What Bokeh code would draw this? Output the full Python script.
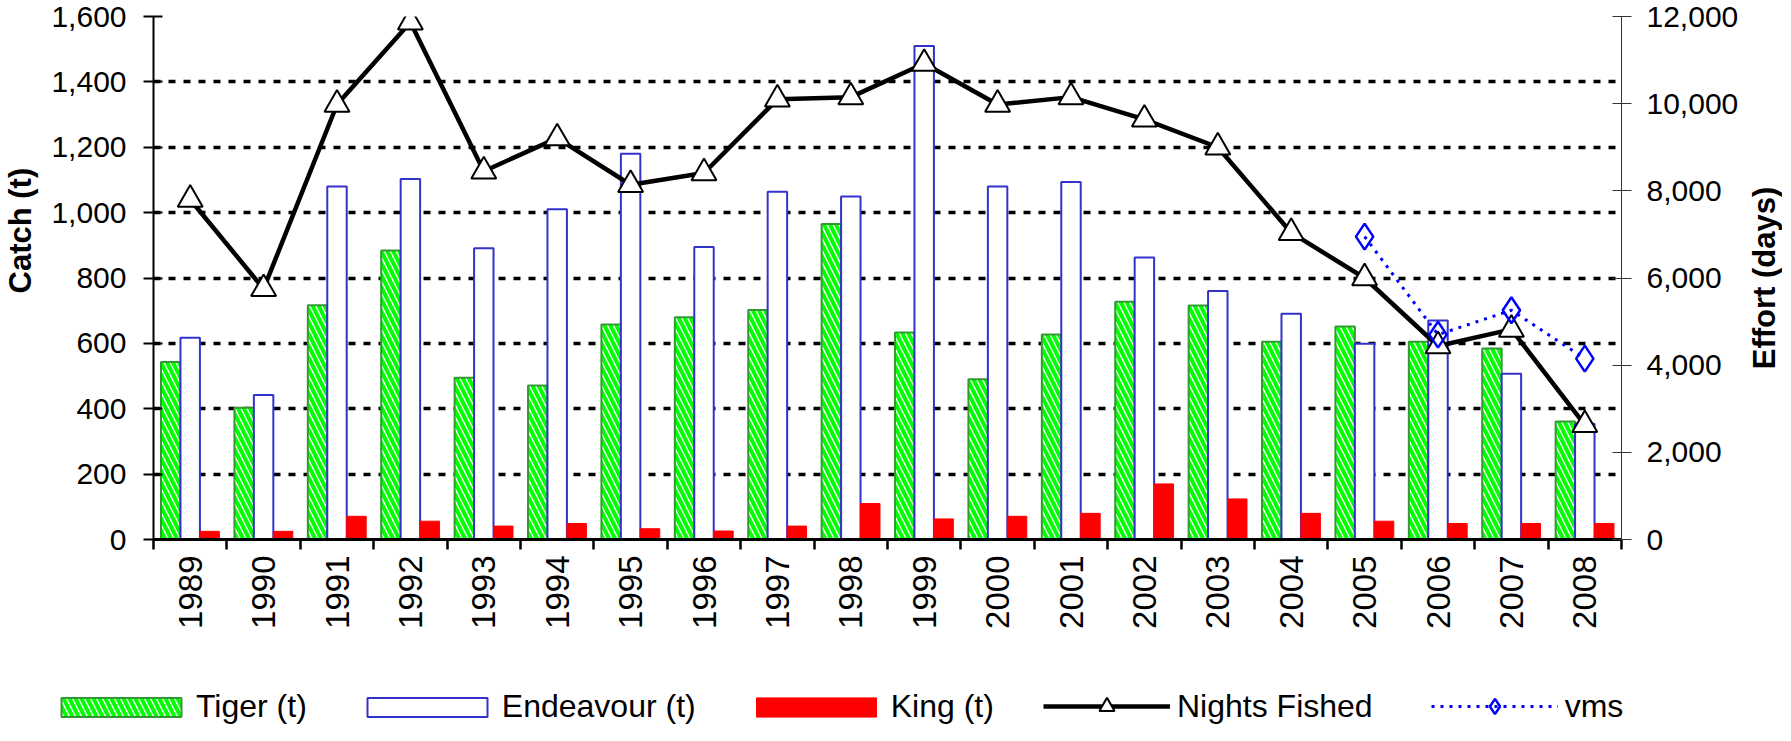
import numpy as np
from bokeh.plotting import figure
from bokeh.layouts import column, row
from bokeh.models import (Range1d, LinearAxis, FixedTicker, NumeralTickFormatter,
                          Legend, LegendItem, ColumnDataSource)
from bokeh.transform import dodge
from bokeh.embed import file_html
from bokeh.resources import INLINE
from bokeh.core.properties import value

# ---------------- data ----------------
years = list(range(1989, 2009))
tiger = [543, 403, 717, 884, 495, 471, 658, 680, 702, 965, 633, 490, 627, 727, 716, 605, 652, 605, 584, 361]
endeavour = [617, 442, 1080, 1103, 891, 1010, 1180, 895, 1064, 1049, 1510, 1080, 1094, 863, 760, 691, 599, 670, 507, 354]
king = [25, 25, 71, 56, 41, 49, 33, 26, 41, 110, 63, 71, 80, 170, 124, 80, 56, 49, 49, 49]
nights = [7800, 5750, 9980, 11870, 8450, 9210, 8140, 8410, 10100, 10150, 10920, 9980, 10150, 9640, 9000, 7040, 6000, 4440, 4820, 2630]
vms_years = [2005, 2006, 2007, 2008]
vms = [6950, 4700, 5260, 4150]
catch_ticks = [0, 200, 400, 600, 800, 1000, 1200, 1400, 1600]
effort_ticks = [0, 2000, 4000, 6000, 8000, 10000, 12000]
series_labels = ["Tiger (t)", "Endeavour (t)", "King (t)", "Nights Fished", "vms"]

FONT = "Liberation Sans"
NB = "\u00a0"

# ---------------- styles ----------------
TIGER = dict(fill_color="white", hatch_pattern="\\", hatch_color="#00FF00",
             hatch_scale=12, hatch_weight=4, line_color="#339933", line_width=2)
ENDEAV = dict(fill_color="white", line_color="#3333CC", line_width=2)
KING = dict(fill_color="#FF0000", line_color="#FF0000", line_width=1)
NLINE = dict(line_color="black", line_width=4.5)
NMARK = dict(marker="triangle", size=25, fill_color="white", line_color="black", line_width=2)
VLINE = dict(line_color="#0000FF", line_width=3, line_dash="3 6")
VMARK = dict(marker="diamond", size=26, fill_color=None, line_color="#0000FF", line_width=2.5)

FRAME_H = 523
TOP = 16
BOTTOM = 148

src = ColumnDataSource(dict(year=years, tiger=tiger, endeavour=endeavour, king=king, nights=nights))
vsrc = ColumnDataSource(dict(year=vms_years, vms=vms))

p = figure(frame_width=1468, frame_height=FRAME_H,
           x_range=Range1d(1988.5, 2008.5), y_range=Range1d(0, 1600),
           output_backend="svg", toolbar_location=None,
           min_border_left=148, min_border_right=122, min_border_top=TOP, min_border_bottom=BOTTOM,
           outline_line_color=None, background_fill_color="white", border_fill_color="white")
p.extra_y_ranges = {"effort": Range1d(0, 12000)}

# grid
p.xgrid.visible = False
p.ygrid.ticker = FixedTicker(ticks=[t for t in catch_ticks if t > 0])
p.ygrid.grid_line_color = "black"
p.ygrid.grid_line_width = 3.5
p.ygrid.grid_line_dash = "7 8"

# bars
bw = 0.265
p.vbar(x=dodge("year", -bw, range=p.x_range), top="tiger", width=bw, source=src, **TIGER)
p.vbar(x=dodge("year", 0, range=p.x_range), top="endeavour", width=bw, source=src, **ENDEAV)
p.vbar(x=dodge("year", bw, range=p.x_range), top="king", width=bw, source=src, **KING)

# lines
p.line(x="year", y="nights", source=src, y_range_name="effort", **NLINE)
p.scatter(x="year", y="nights", source=src, y_range_name="effort", **NMARK)
p.line(x="year", y="vms", source=vsrc, y_range_name="effort", **VLINE)
p.scatter(x="year", y="vms", source=vsrc, y_range_name="effort", **VMARK)

# x axis
xa = p.xaxis[0]
xa.ticker = FixedTicker(ticks=years, minor_ticks=[y - 0.5 for y in years] + [2008.5])
xa.major_tick_in = 0
xa.major_tick_out = 0
xa.minor_tick_in = 0
xa.minor_tick_out = 10
xa.minor_tick_line_width = 2.5
xa.minor_tick_line_color = "black"
xa.axis_line_width = 3
xa.axis_line_color = "black"
xa.major_label_orientation = np.pi / 2
xa.major_label_standoff = 6
xa.major_label_text_font = FONT
xa.major_label_text_font_size = "33px"
xa.major_label_text_color = "black"

# left axis
ya = p.yaxis[0]
ya.ticker = FixedTicker(ticks=catch_ticks)
ya.formatter = NumeralTickFormatter(format="0,0")
ya.major_tick_in = 9
ya.major_tick_out = 10
ya.major_tick_line_width = 2
ya.minor_tick_in = 0
ya.minor_tick_out = 0
ya.axis_line_width = 2
ya.axis_line_color = "black"
ya.major_label_standoff = 17
ya.major_label_text_font = FONT
ya.major_label_text_font_size = "30px"
ya.major_label_text_color = "black"
ya.axis_label = NB * 11 + "Catch (t)"
ya.axis_label_text_font = FONT
ya.axis_label_text_font_style = "bold"
ya.axis_label_text_font_size = "31px"
ya.axis_label_standoff = 10
ya.axis_label_text_color = "black"

# right axis (its title is drawn by the narrow figure beside it, so it reads bottom-to-top)
ra = LinearAxis(y_range_name="effort", ticker=FixedTicker(ticks=effort_ticks),
                formatter=NumeralTickFormatter(format="0,0"))
ra.major_tick_in = 9
ra.major_tick_out = 10
ra.major_tick_line_width = 1
ra.major_tick_line_color = "#333333"
ra.minor_tick_in = 0
ra.minor_tick_out = 0
ra.axis_line_width = 1
ra.axis_line_color = "#333333"
ra.major_label_standoff = 15
ra.major_label_text_font = FONT
ra.major_label_text_font_size = "30px"
ra.major_label_text_color = "black"
p.add_layout(ra, "right")

# narrow figure holding the right axis title
side = figure(frame_width=1, frame_height=FRAME_H, x_range=Range1d(0, 1), y_range=Range1d(0, 12000),
              output_backend="svg", toolbar_location=None, x_axis_location=None,
              min_border_left=35, min_border_right=0, min_border_top=TOP, min_border_bottom=BOTTOM,
              outline_line_color=None, background_fill_color="white", border_fill_color="white")
side.grid.visible = False
sa = side.yaxis[0]
sa.ticker = FixedTicker(ticks=[])
sa.axis_line_color = None
sa.major_tick_out = 0
sa.major_tick_in = 0
sa.minor_tick_out = 0
sa.minor_tick_in = 0
sa.major_label_standoff = 0
sa.axis_label = "Effort (days)"
sa.axis_label_text_font = FONT
sa.axis_label_text_font_style = "bold"
sa.axis_label_text_font_size = "31px"
sa.axis_label_standoff = 0
sa.axis_label_text_color = "black"

# legend strip (swatches come from NaN-only renderers with the same styles: nothing is drawn in the strip)
LEG_H = 38
leg = figure(frame_width=1774, frame_height=LEG_H, x_range=Range1d(0, 1), y_range=Range1d(0, 1),
             output_backend="svg", toolbar_location=None, x_axis_location=None, y_axis_location=None,
             min_border=0, outline_line_color=None, background_fill_color="white",
             border_fill_color="white")
leg.grid.visible = False
nan = float("nan")
dummy = ColumnDataSource(dict(x=[nan], y=[nan]))
lt = leg.vbar(x="x", top="y", width=0.1, source=dummy, **TIGER)
le = leg.vbar(x="x", top="y", width=0.1, source=dummy, **ENDEAV)
lk = leg.vbar(x="x", top="y", width=0.1, source=dummy, **KING)
lnl = leg.line(x="x", y="y", source=dummy, **NLINE)
lnm = leg.scatter(x="x", y="y", source=dummy, **NMARK)
lvl = leg.line(x="x", y="y", source=dummy, **VLINE)
lvm = leg.scatter(x="x", y="y", source=dummy, **VMARK)

common = dict(orientation="horizontal", padding=0, margin=0, border_line_color=None,
              background_fill_alpha=0, label_text_font=FONT, label_text_font_size="32px",
              label_text_color="black")
legA = Legend(items=[LegendItem(label=value(series_labels[0]), renderers=[lt]),
                     LegendItem(label=value(series_labels[1]), renderers=[le]),
                     LegendItem(label=value(series_labels[2]), renderers=[lk])],
              location=(46, 0), glyph_width=150, glyph_height=24, label_standoff=-4,
              spacing=45, **common)
legB = Legend(items=[LegendItem(label=value(series_labels[3]), renderers=[lnl, lnm]),
                     LegendItem(label=value(series_labels[4]), renderers=[lvl, lvm])],
              location=(1043, 0), glyph_width=127, glyph_height=38, label_standoff=7,
              spacing=58, **common)
leg.add_layout(legA)
leg.add_layout(legB)

layout = column(row(p, side, spacing=0), leg, spacing=0)
open("out.html", "w").write(file_html(layout, INLINE, title="Catch and effort"))
